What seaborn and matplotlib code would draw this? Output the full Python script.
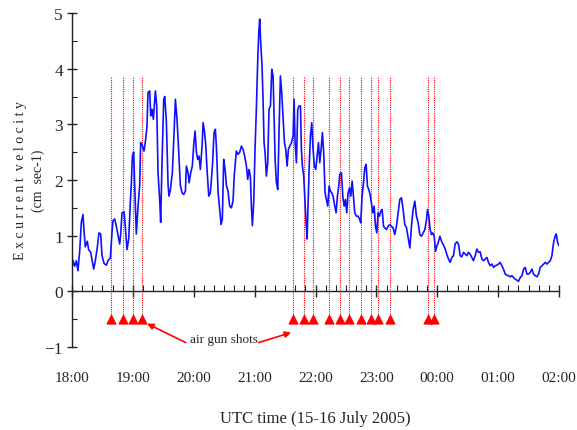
import numpy as np
import matplotlib.pyplot as plt
import seaborn as sns
sns.set_style("ticks")
plt.rcParams['font.family'] = ['Liberation Serif', 'DejaVu Serif']

# minutes after 18:00 (15 July 2005) and excurrent velocity (cm/s)
minutes = [0, 1.0, 2.6, 4.3, 5.9, 7.6, 9.2, 10.8, 11.8, 13.1, 15.1, 16.4, 18.4, 19.7,
           21.4, 23.0, 25.0, 26.6, 28.3, 29.6, 31.6, 33.9, 35.5, 37.8, 39.4, 40.4,
           42.1, 43.7, 45.4, 47.0, 48.0, 49.3, 51.3, 52.6, 54.2, 55.9, 57.5, 58.5,
           59.5, 60.8, 61.8, 63.4, 65.1, 66.7, 67.7, 69.0, 71.0, 72.6, 73.9, 74.9,
           76.6, 77.6, 78.9, 80.2, 82.2, 83.5, 84.8, 86.4, 87.4, 88.8, 90.4,
           91.4, 93.0, 94.7, 95.6, 97.0, 98.9, 100.6, 101.9, 103.5, 105.2, 106.8,
           108.5, 110.1, 111.8, 112.7, 114.4, 115.4, 117.0, 118.6, 120.0, 121.3,
           122.6, 123.9, 125.2, 126.5, 128.2, 129.2, 130.5, 131.8, 133.1, 134.8,
           136.4, 138.4, 140.0, 141.3, 142.3, 144.0, 145.6, 146.9, 148.2, 149.5,
           150.9, 152.2, 153.8, 155.4, 157.1, 158.7, 160.0, 162.0, 163.7, 165.3,
           167.0, 168.6, 170.2, 171.9, 173.2, 174.5, 175.8, 176.8, 177.8, 179.1,
           180.4, 181.8, 183.1, 184.1, 185.0, 186.0, 187.3, 188.3, 189.3, 190.3,
           191.6, 192.9, 194.2, 195.6, 196.9, 198.2, 199.2, 200.2, 201.5, 202.8,
           204.1, 205.4, 206.7, 208.0, 209.4, 210.7, 212.0, 213.3, 214.6, 216.3,
           217.9, 218.9, 219.9, 221.2, 222.5, 223.8, 225.2, 226.1, 227.1, 228.4,
           229.7, 230.7, 231.7, 232.7, 233.7, 235.0, 236.3, 237.6, 238.9, 240.3,
           241.6, 242.9, 244.2, 245.5, 246.8, 248.1, 249.4, 250.8, 252.1, 253.4,
           254.7, 256.0, 257.3, 259.0, 260.3, 261.6, 262.9,
           263.9, 265.6, 266.9, 268.2, 269.5, 270.8, 272.1, 273.5, 274.8, 276.1,
           277.4, 278.7, 280.4, 282.0, 283.6, 284.6, 285.9, 287.3, 288.6, 289.9,
           291.2, 292.5, 293.8, 295.1, 296.5, 297.8, 299.1, 300.4, 301.7, 303.0,
           304.4, 305.7, 307.0, 308.3, 309.9, 311.6, 313.2, 314.9, 316.5, 318.1,
           319.8, 321.4, 323.1, 324.7, 326.4, 328.0, 329.7, 331.3, 333.0, 334.6,
           336.2, 337.9, 339.5, 341.2, 342.8, 344.5, 346.1, 347.8, 349.4, 350.4,
           351.7, 353.0, 354.3, 355.7, 357.0, 358.3, 359.6, 360.9, 362.6, 364.2,
           365.9, 367.5, 369.5,
           371.1, 372.7, 374.4, 376.0, 377.6, 379.3, 380.9, 382.6, 384.2, 385.9,
           387.5, 389.2, 390.8, 392.4, 394.1, 395.7, 397.4, 399.0, 400.7, 402.3,
           404.0, 405.6, 407.2, 408.9, 410.5, 412.2, 413.8, 415.5, 417.1, 418.7,
           420.4, 422.0, 423.7, 425.3, 427.0, 428.6, 430.3, 431.9, 433.5, 435.2,
           436.8, 438.5, 440.1, 441.8, 443.4, 445.1, 446.7, 448.4, 450.0, 451.6,
           453.3, 454.9, 456.6, 458.2, 459.9, 461.5, 463.2, 464.8, 466.5, 468.1,
           469.7, 471.4, 473.0, 474.7, 476.3, 477.3, 478.6, 479.9]
velocity = [0.6, 0.55, 0.45, 0.55, 0.37, 0.73, 1.24, 1.38, 1.1, 0.8, 0.9, 0.75, 0.7, 0.57,
            0.4, 0.55, 0.8, 1.05, 1.03, 0.64, 0.5, 0.47, 0.55, 0.6, 1.05, 1.27,
            1.3, 1.17, 1.0, 0.85, 1.03, 1.41, 1.43, 1.15, 0.75, 0.94, 1.6, 1.95,
            2.43, 2.5, 1.9, 1.03, 1.53, 1.9, 2.67, 2.64, 2.52, 2.73, 2.97, 3.57,
            3.6, 3.15, 3.27, 3.09, 3.6, 3.33, 2.13, 1.65, 1.24, 2.37, 3.45,
            3.5, 3.06, 1.9, 1.71, 1.83, 2.13, 2.85, 3.45, 3.09, 2.5, 1.9,
            1.77, 1.74, 1.8, 2.25, 2.13, 1.95, 2.13, 2.25, 2.64, 2.88,
            2.5, 2.37, 2.43, 2.19, 2.61, 3.03, 2.88, 2.64, 2.19, 1.71,
            1.77, 2.25, 2.85, 2.91, 2.61, 1.77, 1.47, 1.2, 1.3, 2.37,
            2.19, 1.9, 1.8, 1.53, 1.5, 1.62, 2.1, 2.52, 2.46, 2.5,
            2.61, 2.55, 2.43, 2.25, 2.01, 2.19, 2.07, 1.53, 1.18, 1.6,
            2.55, 3.33, 4.17, 4.65, 4.89, 4.47, 4.05, 3.45, 2.67, 2.49,
            2.07, 2.31, 3.27, 3.33, 3.99, 3.87, 3.15, 2.37, 1.95, 1.83,
            2.91, 3.87, 3.57, 3.15, 2.67, 2.55, 2.25, 2.55, 2.61, 2.67,
            2.79, 3.45, 2.67, 2.31, 3.27, 3.33, 3.33, 2.55, 2.25, 2.07,
            1.6, 1.24, 0.94, 1.6, 2.19, 2.79, 3.03, 2.55, 2.25, 2.19,
            2.43, 2.67, 2.31, 2.55, 2.85, 2.49, 1.77, 1.65, 1.53, 1.89,
            1.8, 1.77, 1.71, 1.53, 1.41, 1.71, 1.89,
            2.1, 2.13, 1.71, 1.53, 1.65, 1.41, 1.77, 1.86, 1.71, 1.98,
            1.71, 1.41, 1.35, 1.35, 1.29, 1.23, 1.71, 1.95, 2.22, 2.28,
            1.89, 1.83, 1.74, 1.59, 1.41, 1.53, 1.17, 1.05, 1.41, 1.35,
            1.44, 1.47, 1.17, 1.14, 1.11, 1.17, 1.2, 1.17, 1.14, 1.02,
            1.17, 1.41, 1.65, 1.68, 1.47, 1.2, 1.14, 0.96, 0.78, 1.17,
            1.47, 1.62, 1.35, 1.23, 1.02, 0.99, 1.05, 1.11, 1.29, 1.47,
            1.35, 1.11, 1.02, 1.05, 0.99, 0.72, 0.81, 0.87, 0.99, 0.9,
            0.84, 0.78, 0.66,
            0.58, 0.52, 0.61, 0.64, 0.85, 0.89, 0.85, 0.64, 0.62, 0.7,
            0.67, 0.64, 0.7, 0.67, 0.61, 0.55, 0.64, 0.76, 0.7, 0.71,
            0.58, 0.55, 0.58, 0.61, 0.52, 0.46, 0.49, 0.43, 0.46, 0.47,
            0.49, 0.52, 0.46, 0.4, 0.31, 0.29, 0.28, 0.26, 0.28, 0.25,
            0.22, 0.2, 0.18, 0.25, 0.28, 0.4, 0.43, 0.31, 0.31, 0.34,
            0.4, 0.31, 0.28, 0.26, 0.31, 0.43, 0.46, 0.49, 0.52, 0.49,
            0.52, 0.55, 0.64, 0.88, 1.0, 1.03, 0.88, 0.82]

# air gun shot times (minutes after 18:00)
shots = [38.5, 49.8, 60.0, 69.3, 218.2, 228.8, 237.9, 253.6, 264.0, 273.1,
         284.7, 294.3, 301.7, 313.1, 351.3, 356.9]

hour_labels = ["18:00", "19:00", "20:00", "21:00", "22:00", "23:00", "00:00", "01:00", "02:00"]

fig = plt.figure(figsize=(5.77, 4.31), dpi=100)
ax = fig.add_axes([72/577, 1 - 348/431, 487/577, 334/431])

ax.vlines(shots, -0.4, 3.87, colors="red", linestyles=(0, (1, 1)), lw=0.8)
sns.lineplot(x=minutes, y=velocity, ax=ax, color="#1010ff", lw=1.2,
             estimator=None, sort=False)
sns.scatterplot(x=shots, y=[-0.5] * len(shots), ax=ax, marker="^", color="red",
                edgecolor="red", s=45, zorder=5)

# label and the two arrows pointing at the shot markers
ax.text(150, -0.86, "air gun shots", ha="center", va="center", fontsize=9.5)
arrow = dict(arrowstyle="-|>", color="red", lw=1.2, shrinkA=0, shrinkB=0, mutation_scale=9)
ax.annotate("", xy=(74, -0.58), xytext=(112, -0.92), arrowprops=arrow)
ax.annotate("", xy=(216, -0.74), xytext=(184, -0.92), arrowprops=arrow)

ax.set_xlim(0, 480)
ax.set_ylim(-1, 5)
ax.set_xticks(np.arange(0, 481, 60))
ax.set_xticklabels(hour_labels)
ax.set_xticks(np.arange(0, 481, 10), minor=True)
ax.set_yticks(np.arange(-1, 6, 1))
ax.set_yticks(np.arange(-1, 5.01, 0.5), minor=True)

for s in ["top", "right"]:
    ax.spines[s].set_visible(False)
ax.spines["bottom"].set_position(("data", 0))
for s in ["left", "bottom"]:
    ax.spines[s].set_color("#222222")
    ax.spines[s].set_linewidth(1.0)

ax.tick_params(axis="x", which="major", direction="inout", length=9, width=1,
               color="#222222", pad=53, labelsize=11)
ax.tick_params(axis="x", which="minor", direction="in", length=4, width=0.8, color="#222222")
ax.tick_params(axis="y", which="major", direction="inout", length=7, width=1,
               color="#222222", pad=3, labelsize=12.5)
ax.tick_params(axis="y", which="minor", direction="in", length=3.5, width=0.8, color="#222222")

ax.set_xlabel("UTC time (15-16 July 2005)", fontsize=12)
ax.xaxis.set_label_coords(0.5, -0.19)
ax.set_ylabel("E x c u r r e n t  v e l o c i t y\n(cm  sec-1)", fontsize=10,
              linespacing=1.5)
ax.yaxis.set_label_coords(-0.055, 0.5)

fig.savefig("out.png", dpi=100)
